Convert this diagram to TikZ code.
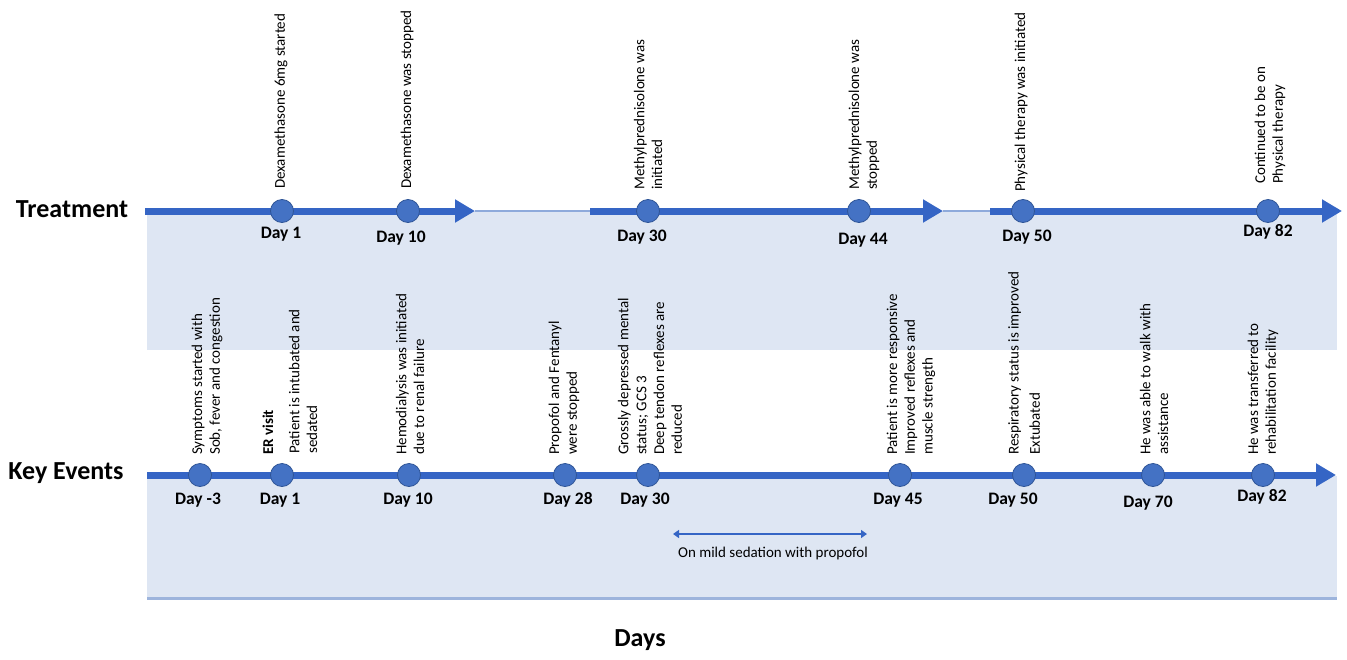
\documentclass[tikz,border=0pt]{standalone}
\usepackage{fontspec}
\setmainfont{Carlito}
\usetikzlibrary{arrows.meta}
\definecolor{lineblue}{HTML}{3565C5}
\definecolor{dotblue}{HTML}{4472C4}
\definecolor{dotedge}{HTML}{2F5597}
\definecolor{bandblue}{HTML}{DEE6F3}
\definecolor{thinblue}{HTML}{8EAADB}
\definecolor{ruleblue}{HTML}{9DB4DC}
\begin{document}
\begin{tikzpicture}[x=1pt,y=-1pt,
  evt/.style={circle, fill=dotblue, draw=dotedge, line width=0.8pt, minimum size=23pt, inner sep=0pt},
  daylbl/.style={font=\fontsize{17.5}{20}\selectfont\bfseries, inner sep=0pt},
  vlbl/.style={rotate=90, anchor=west, align=left, inner sep=0pt, font=\fontsize{15}{17.8}\selectfont},
  rowlbl/.style={font=\fontsize{26}{30}\selectfont\bfseries, inner sep=0pt},
  mainline/.style={line width=7pt, draw=lineblue, -{Triangle[length=20pt,width=22pt]}},
  gapline/.style={line width=2pt, draw=thinblue}
]
\useasboundingbox (0,0) rectangle (1347,659);
% bands
\fill[bandblue] (147,211) rectangle (1337,350);
\fill[bandblue] (147,476) rectangle (1337,598);
\draw[ruleblue, line width=3pt] (147,598) -- (1337,598);

% row labels
\node[rowlbl] (trt) at (72,209) {Treatment};
\node[rowlbl] (key) at (66,473) {Key Events};
\node[rowlbl] (days) at (640,640) {Days};

% treatment line
\coordinate (tS1) at (145,211);
\coordinate (tE1) at (475,211);
\coordinate (tS2) at (590,211);
\coordinate (tE2) at (943,211);
\coordinate (tS3) at (990,211);
\coordinate (tE3) at (1342,211);
\draw[gapline] (tE1) -- (tS2);
\draw[gapline] (tE2) -- (tS3);
\draw[mainline] (tS1) -- (tE1);
\draw[mainline] (tS2) -- (tE2);
\draw[mainline] (tS3) -- (tE3);

\node[evt] (t1) at (282,211) {};
\node[evt] (t10) at (408,211) {};
\node[evt] (t30) at (648,211) {};
\node[evt] (t44) at (859,211) {};
\node[evt] (t50) at (1023,211) {};
\node[evt] (t82) at (1268,211) {};

\node[daylbl] (t1d) at (281,234) {Day 1};
\node[daylbl] (t10d) at (401,238) {Day 10};
\node[daylbl] (t30d) at (642,237) {Day 30};
\node[daylbl] (t44d) at (863,240) {Day 44};
\node[daylbl] (t50d) at (1027,237) {Day 50};
\node[daylbl] (t82d) at (1268,232) {Day 82};

\node[vlbl] (t1x) at (281,189) {Dexamethasone 6mg started};
\node[vlbl] (t10x) at (407,189) {Dexamethasone was stopped};
\node[vlbl] (t30x) at (648,190) {Methylprednisolone was\\initiated};
\node[vlbl] (t44x) at (864,190) {Methylprednisolone was\\stopped};
\node[vlbl] (t50x) at (1021,192) {Physical therapy was initiated};
\node[vlbl] (t82x) at (1270,184) {Continued to be on\\Physical therapy};

% key events line
\coordinate (kS) at (147,475);
\coordinate (kE) at (1336,475);
\draw[mainline] (kS) -- (kE);

\node[evt] (km3) at (200,475) {};
\node[evt] (k1) at (282,475) {};
\node[evt] (k10) at (409,475) {};
\node[evt] (k28) at (565,475) {};
\node[evt] (k30) at (648,475) {};
\node[evt] (k45) at (900,475) {};
\node[evt] (k50) at (1024,475) {};
\node[evt] (k70) at (1153,475) {};
\node[evt] (k82) at (1263,475) {};

\node[daylbl] (km3d) at (198,500) {Day -3};
\node[daylbl] (k1d) at (280,500) {Day 1};
\node[daylbl] (k10d) at (408,500) {Day 10};
\node[daylbl] (k28d) at (568,500) {Day 28};
\node[daylbl] (k30d) at (645,500) {Day 30};
\node[daylbl] (k45d) at (898,500) {Day 45};
\node[daylbl] (k50d) at (1013,500) {Day 50};
\node[daylbl] (k70d) at (1148,503) {Day 70};
\node[daylbl] (k82d) at (1262,497) {Day 82};

\node[vlbl] (km3x) at (207,455) {Symptoms started with\\Sob, fever and congestion};
\node[vlbl, font=\fontsize{15}{17.8}\selectfont\bfseries] (k1er) at (268,455) {ER visit};
\node[vlbl] (k1x) at (303,454) {Patient is intubated and\\sedated};
\node[vlbl] (k10x) at (410,455) {Hemodialysis was initiated\\due to renal failure};
\node[vlbl] (k28x) at (564,455) {Propofol and Fentanyl\\were stopped};
\node[vlbl] (k30x) at (650,455) {Grossly depressed mental\\status; GCS 3\\Deep tendon reflexes are\\reduced};
\node[vlbl] (k45x) at (911,455) {Patient is more responsive\\Improved reflexes and\\muscle strength};
\node[vlbl] (k50x) at (1024,455) {Respiratory status is improved\\[3.5pt]Extubated};
\node[vlbl] (k70x) at (1154,455) {He was able to walk with\\assistance};
\node[vlbl] (k82x) at (1263,455) {He was transferred to\\rehabilitation facility};

% sedation span
\coordinate (sedL) at (673,534);
\coordinate (sedR) at (867,534);
\draw[lineblue, line width=2pt, {Triangle[length=6pt,width=8pt]}-{Triangle[length=6pt,width=8pt]}] (sedL) -- (sedR);
\node[font=\fontsize{15}{18}\selectfont, inner sep=0pt] (sedtxt) at (773,553) {On mild sedation with propofol};
\end{tikzpicture}
\end{document}
